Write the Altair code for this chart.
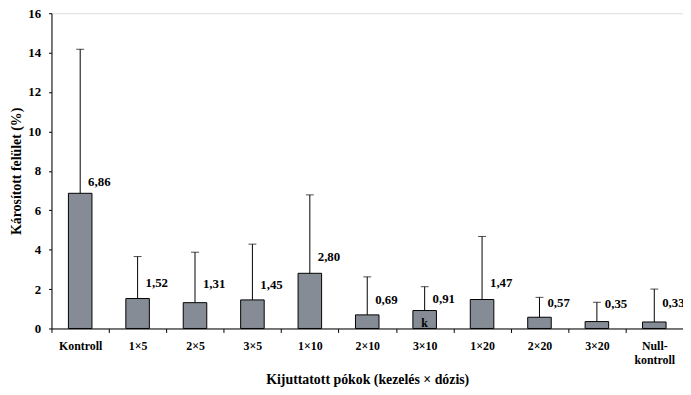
import altair as alt
import pandas as pd

categories = ["Kontroll", "1×5", "2×5", "3×5", "1×10", "2×10", "3×10",
              "1×20", "2×20", "3×20", "Null-kontroll"]
means = [6.86, 1.52, 1.31, 1.45, 2.80, 0.69, 0.91, 1.47, 0.57, 0.35, 0.33]
sds = [7.31, 2.13, 2.56, 2.83, 3.98, 1.93, 1.21, 3.20, 1.01, 0.98, 1.67]
label_y = [7.45, 2.30, 2.25, 2.20, 3.60, 1.42, 1.50, 2.33, 1.28, 1.23, 1.28]
notes = ["", "", "", "", "", "", "k", "", "", "", ""]
y_ticks = [0, 2, 4, 6, 8, 10, 12, 14, 16]

df = pd.DataFrame({
    "cat": categories,
    "mean": means,
    "upper": [m + s for m, s in zip(means, sds)],
    "label_y": label_y,
    "label": [f"{m:.2f}".replace(".", ",") for m in means],
    "note": notes,
})

FONT = "Liberation Serif"

xaxis = alt.Axis(
    labelAngle=0, tickBand="extent", tickSize=4, tickColor="black",
    domainColor="black", labelPadding=8, labelFont=FONT, labelFontSize=12,
    labelFontWeight="bold", labelColor="black",
    labelExpr="datum.value == 'Null-kontroll' ? ['Null-', 'kontroll'] : datum.value",
    titleFont=FONT, titleFontSize=14, titleFontWeight="bold", titleColor="black",
    titleBaseline="alphabetic", titleY=56,
)
xscale = alt.Scale(paddingInner=0, paddingOuter=0)
yaxis = alt.Axis(values=y_ticks, grid=False, tickSize=3, labelOverlap=False,
                 tickColor="black", domainColor="black", labelPadding=8,
                 labelFont=FONT, labelFontSize=13, labelFontWeight="bold",
                 labelColor="black", titleFont=FONT, titleFontSize=14,
                 titleFontWeight="bold", titleColor="black",
                 titleX=-35, titleBaseline="middle")
yscale = alt.Scale(domain=[0, 16], nice=False)
YT = "Károsított felület (%)"
XT = "Kijuttatott pókok (kezelés × dózis)"


def X():
    return alt.X("cat:N", sort=categories, title=XT, scale=xscale, axis=xaxis)


def Y(field):
    return alt.Y(field, scale=yscale, title=YT, axis=yaxis)


bars = alt.Chart(df).mark_bar(
    width=alt.RelativeBandSize(0.41), fill="#868c95", stroke="black", strokeWidth=1
).encode(x=X(), y=Y("mean:Q"))

err = alt.Chart(df).mark_rule(color="black", strokeWidth=1).encode(
    x=X(), y=Y("mean:Q"), y2="upper:Q"
)
caps = alt.Chart(df).mark_tick(color="black", size=8, thickness=1, orient="horizontal").encode(
    x=X(), y=Y("upper:Q")
)
labels = alt.Chart(df).mark_text(
    align="left", baseline="middle", dx=8, font=FONT, fontSize=13,
    fontWeight="bold", color="black"
).encode(x=X(), y=Y("label_y:Q"), text="label:N")
note = alt.Chart(df).mark_text(
    align="center", baseline="alphabetic", dy=-2, font=FONT, fontSize=12,
    fontWeight="bold", color="black"
).encode(x=X(), y=alt.Y(datum=0, scale=yscale, title=YT, axis=yaxis), text="note:N")

chart = alt.layer(bars, err, caps, labels, note).properties(
    width=639, height=319,
    autosize=alt.AutoSizeParams(type="none"),
    padding={"left": 44, "top": 3, "right": 0, "bottom": 62},
).configure_view(stroke=None).configure(background="white")

chart.save("out.html", embed_options={"renderer": "svg", "actions": False})
